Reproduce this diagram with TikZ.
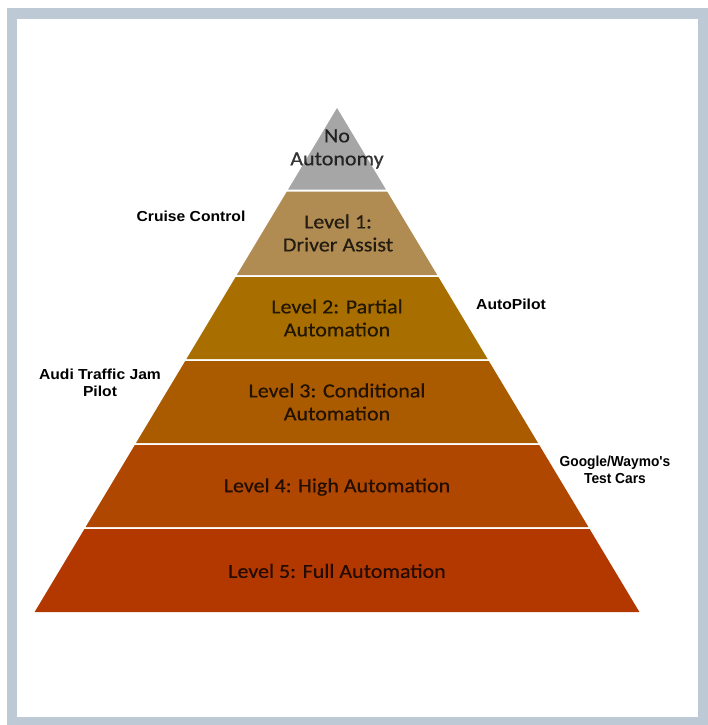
\documentclass[tikz,border=0pt]{standalone}
\usepackage{fontspec}
\setmainfont{Carlito}
\newfontfamily\lvlfont[FakeStretch=1.1,FakeBold=0.4]{Carlito}
\newfontfamily\labelfont[FakeStretch=1.08]{Liberation Sans}
\newfontfamily\labelfontn[FakeStretch=0.95]{Liberation Sans}
\definecolor{framecol}{HTML}{BDC9D5}
\definecolor{c0}{HTML}{A6A6A6}
\definecolor{c1}{HTML}{B08B52}
\definecolor{c2}{HTML}{A86F00}
\definecolor{c3}{HTML}{AA5B00}
\definecolor{c4}{HTML}{B04700}
\definecolor{c5}{HTML}{B33800}
\newcommand{\pyrband}[3]{%
  \pgfmathsetmacro\hwa{(#1-108)*0.6}%
  \pgfmathsetmacro\hwb{(#2-108)*0.6}%
  \fill[#3] (337-\hwa,#1) -- (337+\hwa,#1) -- (337+\hwb,#2) -- (337-\hwb,#2) -- cycle;}
\begin{document}
\begin{tikzpicture}[x=1pt,y=-1pt,
  lvl/.style={font=\lvlfont\fontsize{20}{23}\selectfont, text=black, text opacity=0.78, align=center, inner sep=0pt},
  side/.style={font=\labelfont\bfseries\fontsize{14.5}{17}\selectfont, text=black, align=center, inner sep=0pt}]
\useasboundingbox (0,0) rectangle (708,725);
\fill[white] (0,0) rectangle (708,725);
\fill[framecol] (7,8) rectangle (708,725);
\fill[white] (17,19) rectangle (698,717);
% pyramid bands
\pyrband{108}{189.5}{c0}
\pyrband{191.5}{275}{c1}
\pyrband{277}{359}{c2}
\pyrband{361}{443}{c3}
\pyrband{445}{527}{c4}
\pyrband{529}{612}{c5}
% band texts
\node[lvl] (l0) at (337,149) {No\\Autonomy};
\node[lvl] (l1) at (338,233) {Level 1:\\Driver Assist};
\node[lvl] (l2) at (337,318) {Level 2: Partial\\Automation};
\node[lvl] (l3) at (337,402) {Level 3: Conditional\\Automation};
\node[lvl] (l4) at (337,487) {Level 4: High Automation};
\node[lvl] (l5) at (337,571) {Level 5: Full Automation};
% side labels
\node[side] (cc) at (191,216) {Cruise Control};
\node[side] (ap) at (511,304) {AutoPilot};
\node[side] (audi) at (100,383) {Audi Traffic Jam\\Pilot};
\node[side, font=\labelfontn\bfseries\fontsize{14.5}{17}\selectfont] (gw) at (615,470) {Google/Waymo's\\Test Cars};
\end{tikzpicture}
\end{document}
